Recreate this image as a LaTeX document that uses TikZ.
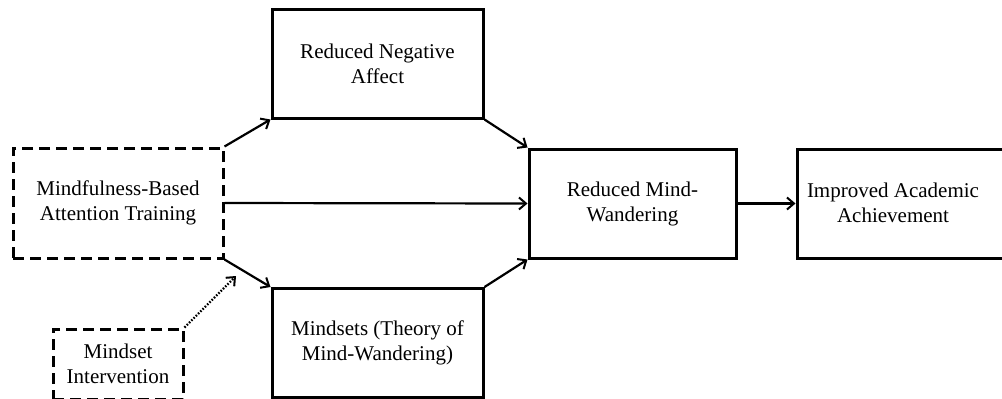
\documentclass[tikz,border=0pt]{standalone}
\usepackage{fontspec}
\setmainfont{Liberation Serif}
\usetikzlibrary{arrows.meta}

\begin{document}
\begin{tikzpicture}[
  x=1pt, y=-1pt,
  every node/.style={font=\fontsize{21}{25}\selectfont, align=center, inner sep=0pt},
  box/.style={draw, line width=3pt, minimum width=211pt, minimum height=109pt},
  dashbox/.style={draw, line width=3pt, dash pattern=on 11pt off 6pt},
  arrowline/.style={line width=2.2pt, -{Straight Barb[length=7pt,width=12pt,line width=2pt]}},
  dotline/.style={arrowline, dash pattern=on 1.6pt off 1.6pt},
]
\clip (0,0) rectangle (1002,399);
\useasboundingbox (0,0) rectangle (1002,399);

% boxes
\node[dashbox, minimum width=210pt, minimum height=110pt] (mbat) at (118,203) {Mindfulness-Based\\Attention Training};
\node[dashbox, minimum width=130pt, minimum height=70pt] (mint) at (118,364) {Mindset\\Intervention};
\node[box] (affect) at (377.5,63.5) {Reduced Negative\\Affect};
\node[box] (theory) at (377.5,343) {Mindsets (Theory of\\Mind-Wandering)};
\node[box, minimum width=207pt] (mw) at (632.5,203.5) {Reduced Mind-\\Wandering};
\node[box, minimum width=210pt] (acad) at (902,203.5) {};
\node at (893,203) {Improved Academic\\Achievement};

% arrows
\coordinate (mod) at (236,276);
\draw[arrowline] (mbat.north east) -- (affect.south west);
\draw[arrowline] (affect.south east) -- (mw.north west);
\draw[arrowline] (mbat.east) -- (mw.west);
\draw[arrowline] (mbat.south east) -- (theory.north west);
\draw[arrowline] (theory.north east) -- (mw.south west);
\draw[arrowline] (mw.east) -- (acad.west);
\draw[dotline] (mint.north east) -- (mod);
\end{tikzpicture}
\end{document}
